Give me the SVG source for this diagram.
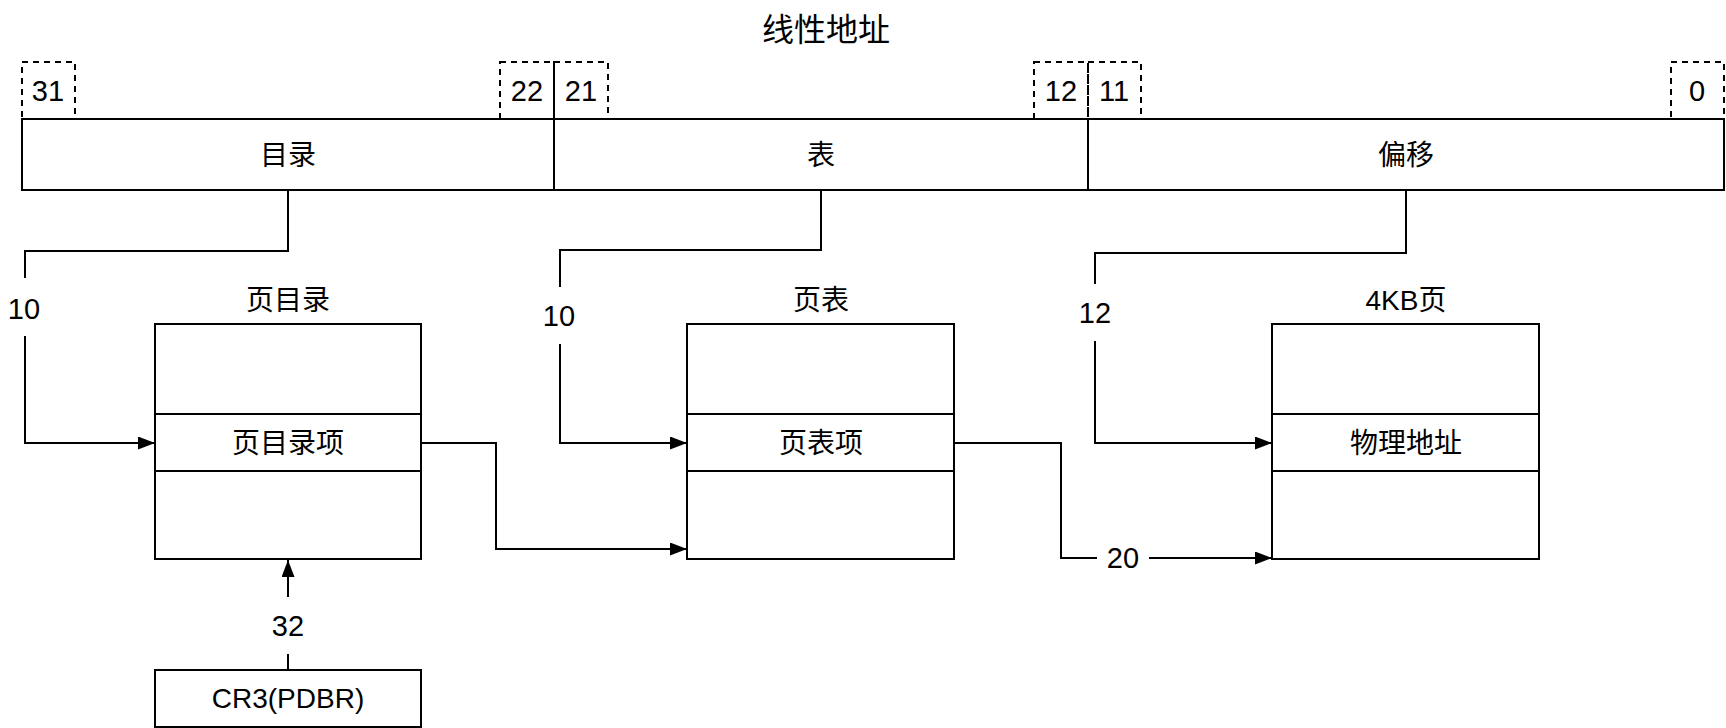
<svg xmlns="http://www.w3.org/2000/svg" width="1726" height="728" viewBox="0 0 1726 728">
<style>
  .box { fill: #fff; stroke: #000; stroke-width: 2; }
  .ln { fill: none; stroke: #000; stroke-width: 2; }
  .dash { fill: none; stroke: #000; stroke-width: 2; stroke-dasharray: 6 5; }
  .t { font-family: "Liberation Sans", "Noto Sans CJK SC", sans-serif; font-size: 28px; fill: #000; text-anchor: middle; dominant-baseline: central; }
  .n { font-family: "Liberation Sans", "Noto Sans CJK SC", sans-serif; font-size: 29px; fill: #000; text-anchor: middle; dominant-baseline: central; }
  .title { font-size: 32px; }
</style>
<defs>
  <marker id="arr" markerUnits="userSpaceOnUse" markerWidth="18" markerHeight="14" refX="17" refY="6.5" orient="auto">
    <path d="M0,0 L17,6.5 L0,13 Z" fill="#000"/>
  </marker>
</defs>
<rect width="1726" height="728" fill="#fff"/>

<g id="title">
  <text class="t title" x="826" y="30">线性地址</text>
</g>

<g id="bit-labels">
  <rect class="dash" x="22" y="62" width="53" height="57"/>
  <text class="n" x="48" y="91">31</text>
  <rect class="dash" x="500" y="62" width="54" height="57"/>
  <text class="n" x="527" y="91">22</text>
  <rect class="dash" x="554" y="62" width="54" height="57"/>
  <text class="n" x="581" y="91">21</text>
  <rect class="dash" x="1034" y="62" width="54" height="57"/>
  <text class="n" x="1061" y="91">12</text>
  <rect class="dash" x="1088" y="62" width="53" height="57"/>
  <text class="n" x="1114" y="91">11</text>
  <rect class="dash" x="1671" y="62" width="53" height="57"/>
  <text class="n" x="1697" y="91">0</text>
</g>

<g id="linear-address">
  <g id="field-dir">
    <rect class="box" x="22" y="119" width="532" height="71"/>
    <text class="t" x="288" y="155">目录</text>
  </g>
  <g id="field-table">
    <rect class="box" x="554" y="119" width="534" height="71"/>
    <text class="t" x="821" y="155">表</text>
  </g>
  <g id="field-offset">
    <rect class="box" x="1088" y="119" width="636" height="71"/>
    <text class="t" x="1406" y="155">偏移</text>
  </g>
</g>

<g id="page-directory">
  <text class="t" x="288" y="300">页目录</text>
  <rect class="box" x="155" y="324" width="266" height="90"/>
  <rect class="box" x="155" y="414" width="266" height="57"/>
  <rect class="box" x="155" y="471" width="266" height="88"/>
  <text class="t" x="288" y="443">页目录项</text>
</g>

<g id="page-table">
  <text class="t" x="821" y="300">页表</text>
  <rect class="box" x="687" y="324" width="267" height="90"/>
  <rect class="box" x="687" y="414" width="267" height="57"/>
  <rect class="box" x="687" y="471" width="267" height="88"/>
  <text class="t" x="821" y="443">页表项</text>
</g>

<g id="page-4kb">
  <text class="t" x="1406" y="300">4KB页</text>
  <rect class="box" x="1272" y="324" width="267" height="90"/>
  <rect class="box" x="1272" y="414" width="267" height="57"/>
  <rect class="box" x="1272" y="471" width="267" height="88"/>
  <text class="t" x="1406" y="443">物理地址</text>
</g>

<g id="cr3">
  <rect class="box" x="155" y="670" width="266" height="57"/>
  <text class="t" x="288" y="698">CR3(PDBR)</text>
</g>

<g id="connectors">
  <path class="ln" d="M288,190 L288,251 L25,251 L25,278"/>
  <path class="ln" d="M25,336 L25,443 L155,443" marker-end="url(#arr)"/>
  <text class="n" x="24" y="309">10</text>

  <path class="ln" d="M821,190 L821,250 L560,250 L560,287"/>
  <path class="ln" d="M560,344 L560,443 L687,443" marker-end="url(#arr)"/>
  <text class="n" x="559" y="316">10</text>

  <path class="ln" d="M1406,190 L1406,253 L1095,253 L1095,284"/>
  <path class="ln" d="M1095,341 L1095,443 L1272,443" marker-end="url(#arr)"/>
  <text class="n" x="1095" y="313">12</text>

  <path class="ln" d="M421,443 L496,443 L496,549 L687,549" marker-end="url(#arr)"/>

  <path class="ln" d="M954,443 L1061,443 L1061,558 L1097,558"/>
  <path class="ln" d="M1149,558 L1272,558" marker-end="url(#arr)"/>
  <text class="n" x="1123" y="558">20</text>

  <path class="ln" d="M288,670 L288,654"/>
  <path class="ln" d="M288,597 L288,560" marker-end="url(#arr)"/>
  <text class="n" x="288" y="626">32</text>
</g>
</svg>
